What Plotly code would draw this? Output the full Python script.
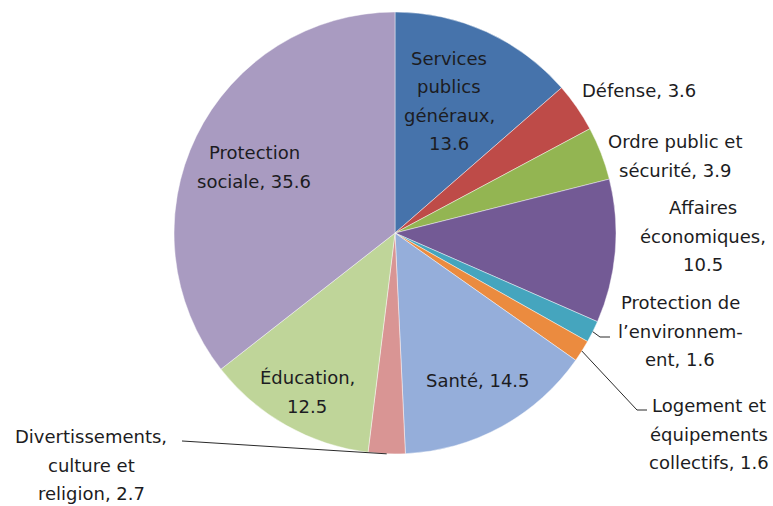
import math
import plotly.graph_objects as go

# Dépenses publiques par fonction (en % du total)
categories = [
    "Services publics généraux",
    "Défense",
    "Ordre public et sécurité",
    "Affaires économiques",
    "Protection de l'environnement",
    "Logement et équipements collectifs",
    "Santé",
    "Divertissements, culture et religion",
    "Éducation",
    "Protection sociale",
]
values = [13.6, 3.6, 3.9, 10.5, 1.6, 1.6, 14.5, 2.7, 12.5, 35.6]

# Label text split into lines (the value is appended on the last line)
label_lines = [
    ["Services", "publics", "généraux,"],
    ["Défense,"],
    ["Ordre public et", "sécurité,"],
    ["Affaires", "économiques,"],
    ["Protection de", "l’environnem-", "ent,"],
    ["Logement et", "équipements", "collectifs,"],
    ["Santé,"],
    ["Divertissements,", "culture et", "religion,"],
    ["Éducation,"],
    ["Protection", "sociale,"],
]
# whether the value sits on its own line
value_own_line = [True, False, False, True, False, False, False, False, True, False]

colors = ["#4673AB", "#BE4B48", "#93B552", "#735A95", "#45A5BE", "#EB8B3F",
          "#95AEDA", "#D99594", "#BFD599", "#A99BC1"]

W, H = 773, 506
CX, CY, R = 395, 233, 221   # pie centre and radius in pixels

# label centre positions (pixels) and line spacing
label_pos = [
    (449, 101), (639, 91), (675, 156), (703, 236), (680, 331),
    (709, 434), (478, 380), (91, 465), (307, 392), (254, 167),
]
LINE_H = 28.5

fig = go.Figure(go.Pie(
    labels=categories,
    values=values,
    sort=False,
    direction="clockwise",
    rotation=0,
    marker=dict(colors=colors, line=dict(color="rgba(255,255,255,0.55)", width=0.8)),
    textinfo="none",
    hoverinfo="label+value",
    showlegend=False,
    domain=dict(x=[(CX - R) / W, (CX + R) / W], y=[(H - CY - R) / H, (H - CY + R) / H]),
))

def px(x, y):
    return x / W, 1 - y / H

annotations = []
for lines, own, val, (lx, ly) in zip(label_lines, value_own_line, values, label_pos):
    text_lines = list(lines)
    if own:
        text_lines.append(f"{val}")
    else:
        text_lines[-1] = f"{text_lines[-1]} {val}"
    n = len(text_lines)
    for i, t in enumerate(text_lines):
        yy = ly + (i - (n - 1) / 2) * LINE_H
        x0, y0 = px(lx, yy)
        annotations.append(dict(
            x=x0, y=y0, xref="paper", yref="paper", text=t, showarrow=False,
            xanchor="center", yanchor="middle",
            font=dict(family="DejaVu Sans, sans-serif", size=18, color="#1c1c22"),
        ))

# leader lines for the thin slices, starting on the slice edge at its mid-angle
total = sum(values)
cum = [sum(values[:i]) for i in range(len(values))]

def edge_point(i):
    ang = math.radians((cum[i] + values[i] / 2) / total * 360)
    return CX + R * math.sin(ang), CY - R * math.cos(ang)

leaders = {
    4: [(600, 337), (610, 337)],
    5: [(637, 410), (647, 410)],
    7: [(182, 441)],
}
shapes = []
for i, pts in leaders.items():
    path_pts = [edge_point(i)] + pts
    d = "M " + " L ".join(f"{px(x, y)[0]:.5f},{px(x, y)[1]:.5f}" for x, y in path_pts)
    shapes.append(dict(type="path", path=d, xref="paper", yref="paper",
                       line=dict(color="#2a2a2a", width=1)))

fig.update_layout(
    width=W, height=H,
    margin=dict(l=0, r=0, t=0, b=0),
    paper_bgcolor="white",
    plot_bgcolor="white",
    annotations=annotations,
    shapes=shapes,
)

fig.write_html("out.html")
